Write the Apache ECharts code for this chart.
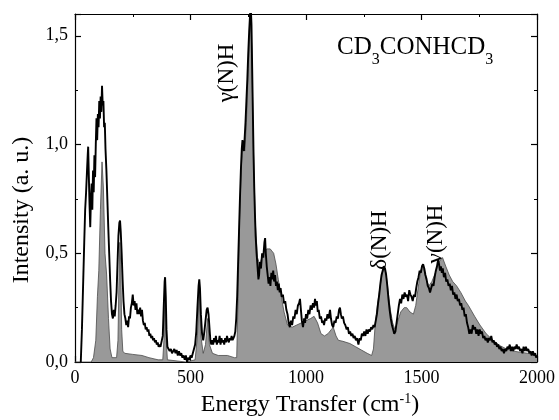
<!DOCTYPE html>
<html>
<head>
<meta charset="utf-8">
<script src="https://cdn.jsdelivr.net/npm/echarts@6/dist/echarts.min.js"></script>
<style>
  html, body { margin: 0; padding: 0; background: #fff; }
  #main { width: 559px; height: 420px; }
</style>
</head>
<body>
<div id="main"></div>
<script>
// calculated spectrum (grey filled), [energy cm-1, intensity]
var calcSpectrum = [
  [0,0],[70,0],[80,0.02],[90,0.1],[97,0.3],[103,0.42],[110,0.7],[117,0.92],[123,0.8],[130,0.5],
  [137,0.4],[145,0.2],[152,0.06],[160,0.02],[180,0.02],[186,0.1],[190,0.35],[194,0.55],[198,0.45],
  [202,0.15],[207,0.05],[215,0.04],[250,0.035],[290,0.03],[320,0.02],[360,0.01],[380,0.01],[385,0.1],
  [390,0.36],[395,0.1],[400,0.01],[480,0],[520,0.01],[530,0.12],[538,0.33],[545,0.12],[555,0.04],
  [565,0.08],[574,0.2],[582,0.08],[595,0.04],[620,0.03],[660,0.03],[690,0.02],[700,0.02],[706,0.3],
  [712,0.65],[720,0.9],[727,1.0],[735,0.97],[742,1.1],[750,1.35],[756,1.5],[760,1.58],[765,1.45],
  [772,1.0],[780,0.65],[790,0.48],[800,0.45],[815,0.5],[830,0.52],[845,0.52],[860,0.5],[870,0.45],
  [880,0.38],[890,0.32],[905,0.23],[920,0.17],[940,0.16],[960,0.17],[980,0.18],[1000,0.19],[1020,0.2],
  [1035,0.21],[1050,0.18],[1065,0.13],[1080,0.12],[1095,0.13],[1110,0.15],[1118,0.16],[1130,0.12],
  [1140,0.1],[1160,0.095],[1190,0.085],[1215,0.07],[1240,0.055],[1265,0.04],[1284,0.03],[1292,0.06],
  [1300,0.18],[1310,0.27],[1320,0.34],[1330,0.41],[1338,0.43],[1346,0.41],[1355,0.33],[1365,0.24],
  [1375,0.18],[1385,0.15],[1395,0.18],[1410,0.23],[1425,0.25],[1436,0.25],[1450,0.23],[1465,0.22],
  [1475,0.26],[1488,0.36],[1497,0.42],[1503,0.44],[1510,0.43],[1520,0.38],[1532,0.35],[1545,0.37],
  [1560,0.41],[1575,0.46],[1591,0.48],[1605,0.44],[1620,0.4],[1635,0.37],[1652,0.35],[1670,0.32],
  [1690,0.28],[1703,0.26],[1730,0.21],[1753,0.17],[1780,0.13],[1810,0.1],[1840,0.075],[1868,0.06],
  [1900,0.05],[1926,0.045],[1960,0.04],[2000,0.03]
];

// measured spectrum (black line)
var exptSpectrum = [
  [25,0],[30,0.15],[35,0.35],[40,0.55],[44,0.7],[48,0.78],[52,0.88],[55,0.95],[57,0.99],[60,0.85],
  [63,0.72],[66,0.62],[69,0.75],[72,0.82],[75,0.7],[78,0.88],[81,0.78],[84,0.95],[87,0.85],[90,1.0],
  [93,1.12],[96,1.02],[99,1.14],[102,1.08],[105,1.2],[108,1.12],[111,1.22],[114,1.15],[117,1.27],
  [120,1.18],[123,1.2],[126,1.08],[129,1.1],[132,0.98],[136,0.88],[140,0.75],[144,0.62],[148,0.5],
  [152,0.38],[156,0.28],[160,0.22],[164,0.2],[168,0.24],[172,0.21],[176,0.26],[180,0.32],[184,0.45],
  [188,0.58],[192,0.64],[195,0.65],[198,0.6],[202,0.5],[206,0.38],[210,0.28],[214,0.22],[218,0.2],
  [222,0.17],[226,0.19],[230,0.16],[234,0.21],[238,0.2],[242,0.25],[246,0.27],[250,0.31],[254,0.26],
  [258,0.28],[262,0.24],[266,0.27],[270,0.22],[274,0.24],[278,0.22],[282,0.25],[286,0.21],[290,0.24],
  [294,0.19],[298,0.17],[302,0.18],[306,0.15],[310,0.16],[314,0.14],[318,0.15],[322,0.12],[326,0.13],
  [330,0.11],[334,0.12],[338,0.1],[342,0.11],[346,0.09],[350,0.1],[354,0.08],[358,0.09],[362,0.07],
  [366,0.08],[370,0.07],[375,0.07],[380,0.12],[384,0.25],[388,0.37],[390,0.39],[393,0.3],[396,0.15],
  [400,0.07],[405,0.06],[410,0.05],[415,0.06],[420,0.04],[425,0.05],[430,0.06],[435,0.04],[440,0.055],
  [445,0.03],[450,0.05],[455,0.03],[460,0.04],[465,0.02],[470,0.03],[475,0.01],[480,0.03],[485,0],
  [490,0.02],[495,0.01],[500,0.03],[505,0.02],[510,0.04],[515,0.06],[520,0.08],[525,0.14],[530,0.25],
  [535,0.35],[538,0.38],[541,0.34],[545,0.22],[550,0.13],[555,0.1],[560,0.14],[565,0.19],[570,0.24],
  [574,0.25],[578,0.22],[582,0.16],[586,0.1],[590,0.08],[594,0.1],[598,0.08],[602,0.11],[606,0.09],
  [610,0.12],[614,0.08],[618,0.1],[622,0.09],[626,0.12],[630,0.08],[634,0.11],[638,0.09],[642,0.1],
  [646,0.08],[650,0.11],[654,0.09],[658,0.12],[662,0.1],[666,0.09],[670,0.11],[674,0.1],[678,0.12],
  [682,0.1],[686,0.11],[690,0.12],[694,0.14],[698,0.2],[702,0.3],[706,0.45],[710,0.6],[714,0.75],
  [718,0.88],[722,0.98],[725,1.02],[728,1.0],[731,0.97],[734,1.02],[738,1.1],[742,1.2],[746,1.3],
  [750,1.42],[754,1.52],[758,1.6],[761,1.63],[764,1.55],[767,1.35],[770,1.15],[773,0.95],[776,0.8],
  [779,0.68],[782,0.58],[786,0.5],[790,0.44],[794,0.38],[797,0.4],[800,0.46],[805,0.43],[810,0.5],
  [815,0.48],[820,0.55],[823,0.57],[826,0.5],[830,0.44],[834,0.4],[838,0.36],[842,0.39],[846,0.35],
  [850,0.41],[854,0.38],[858,0.42],[862,0.37],[866,0.4],[870,0.35],[874,0.37],[878,0.33],[882,0.36],
  [886,0.32],[890,0.34],[895,0.3],[900,0.31],[905,0.27],[910,0.28],[915,0.24],[920,0.22],[925,0.18],
  [930,0.16],[935,0.19],[940,0.17],[945,0.21],[950,0.2],[955,0.24],[960,0.22],[965,0.26],[970,0.27],
  [974,0.29],[978,0.24],[982,0.19],[987,0.16],[992,0.2],[996,0.18],[1000,0.22],[1005,0.2],[1010,0.24],
  [1015,0.22],[1020,0.26],[1025,0.24],[1030,0.27],[1035,0.25],[1039,0.29],[1043,0.26],[1047,0.28],
  [1051,0.23],[1055,0.24],[1060,0.2],[1065,0.21],[1070,0.18],[1074,0.19],[1078,0.17],[1083,0.2],
  [1088,0.19],[1093,0.22],[1098,0.2],[1104,0.24],[1108,0.2],[1113,0.17],[1118,0.16],[1123,0.19],
  [1128,0.18],[1133,0.21],[1138,0.2],[1143,0.24],[1147,0.25],[1151,0.22],[1155,0.2],[1160,0.21],
  [1165,0.18],[1170,0.17],[1176,0.15],[1181,0.16],[1186,0.13],[1191,0.14],[1196,0.12],[1201,0.13],
  [1206,0.11],[1211,0.12],[1216,0.1],[1221,0.11],[1227,0.08],[1232,0.11],[1237,0.1],[1242,0.13],
  [1247,0.12],[1252,0.14],[1257,0.12],[1262,0.15],[1267,0.13],[1272,0.15],[1277,0.14],[1282,0.16],
  [1287,0.15],[1292,0.17],[1297,0.16],[1302,0.19],[1307,0.22],[1312,0.27],[1317,0.31],[1322,0.36],
  [1327,0.4],[1332,0.42],[1337,0.44],[1342,0.43],[1347,0.4],[1352,0.35],[1357,0.29],[1362,0.24],
  [1367,0.2],[1372,0.17],[1377,0.15],[1382,0.13],[1387,0.14],[1392,0.18],[1397,0.22],[1402,0.26],
  [1407,0.29],[1412,0.27],[1417,0.31],[1422,0.29],[1427,0.32],[1432,0.3],[1437,0.31],[1442,0.28],
  [1447,0.33],[1452,0.31],[1457,0.3],[1462,0.28],[1467,0.31],[1472,0.3],[1477,0.34],[1482,0.37],
  [1487,0.39],[1492,0.42],[1497,0.41],[1502,0.44],[1507,0.45],[1512,0.43],[1517,0.4],[1522,0.38],
  [1527,0.35],[1532,0.34],[1537,0.32],[1542,0.34],[1547,0.36],[1552,0.35],[1557,0.39],[1562,0.42],
  [1567,0.44],[1572,0.47],[1576,0.45],[1580,0.42],[1584,0.44],[1588,0.41],[1592,0.43],[1597,0.39],
  [1602,0.41],[1607,0.37],[1612,0.38],[1617,0.35],[1622,0.36],[1627,0.33],[1632,0.35],[1637,0.31],
  [1642,0.32],[1647,0.29],[1652,0.31],[1657,0.28],[1662,0.29],[1667,0.26],[1672,0.27],[1677,0.24],
  [1682,0.25],[1687,0.21],[1692,0.22],[1697,0.18],[1702,0.16],[1707,0.13],[1712,0.15],[1717,0.13],
  [1722,0.17],[1727,0.15],[1732,0.16],[1737,0.13],[1742,0.15],[1747,0.12],[1752,0.15],[1757,0.13],
  [1762,0.14],[1767,0.11],[1772,0.12],[1777,0.1],[1782,0.11],[1787,0.09],[1792,0.11],[1797,0.1],
  [1802,0.12],[1807,0.09],[1812,0.1],[1817,0.08],[1822,0.09],[1827,0.07],[1832,0.08],[1837,0.06],
  [1842,0.07],[1847,0.05],[1852,0.06],[1857,0.04],[1862,0.06],[1867,0.05],[1872,0.07],[1877,0.06],
  [1882,0.08],[1887,0.05],[1892,0.07],[1897,0.05],[1902,0.07],[1907,0.06],[1912,0.08],[1917,0.06],
  [1922,0.07],[1927,0.05],[1932,0.06],[1937,0.04],[1942,0.07],[1947,0.05],[1952,0.07],[1957,0.05],
  [1962,0.06],[1967,0.04],[1972,0.05],[1977,0.03],[1982,0.05],[1987,0.03],[1992,0.04],[1996,0.02],
  [2000,0.03]
];

var xTicks = [0, 500, 1000, 1500, 2000];
var yTicks = [0, 0.5, 1.0, 1.5];

var serif = "'Liberation Serif', 'Times New Roman', serif";

function baseAxis(pos, showLabel) {
  return {
    type: 'value',
    position: pos,
    axisLine: { show: true, onZero: false, lineStyle: { color: '#000', width: 1.2 } },
    axisTick: { show: true, inside: true, length: 6, lineStyle: { color: '#000', width: 1.2 } },
    minorTick: { show: true, splitNumber: 2, length: 3, lineStyle: { color: '#000', width: 1 } },
    splitLine: { show: false },
    axisLabel: { show: showLabel, color: '#000', fontFamily: serif, fontSize: 18, margin: 7 }
  };
}

var xBottom = baseAxis('bottom', true);
xBottom.min = xTicks[0]; xBottom.max = xTicks[xTicks.length - 1]; xBottom.interval = 500;
xBottom.axisLabel.formatter = function (v) { return String(v); };
var xTop = baseAxis('top', false);
xTop.min = xBottom.min; xTop.max = xBottom.max; xTop.interval = 500;

var yLeft = baseAxis('left', true);
yLeft.min = 0; yLeft.max = 1.6; yLeft.interval = 0.5;
yLeft.axisLabel.formatter = function (v) {
  if (yTicks.indexOf(v) < 0) return '';
  return v.toFixed(1).replace('.', ',');
};
var yRight = baseAxis('right', false);
yRight.min = 0; yRight.max = 1.6; yRight.interval = 0.5;

var chart = echarts.init(document.getElementById('main'));
chart.setOption({
  animation: false,
  backgroundColor: '#fff',
  grid: { left: 75, right: 22, top: 14, bottom: 58 },
  xAxis: [xBottom, xTop],
  yAxis: [yLeft, yRight],
  series: [
    {
      type: 'line',
      data: calcSpectrum,
      showSymbol: false,
      lineStyle: { color: '#4a4a4a', width: 0.8 },
      areaStyle: { color: '#999999', opacity: 1 },
      z: 2
    },
    {
      type: 'line',
      data: exptSpectrum,
      showSymbol: false,
      lineStyle: { color: '#000', width: 1.9 },
      z: 3
    }
  ],
  graphic: [
    {
      type: 'text', x: 22, y: 210, rotation: Math.PI / 2,
      style: { text: 'Intensity (a. u.)', font: '24px ' + serif, fill: '#000', align: 'center', verticalAlign: 'middle' }
    },
    {
      type: 'text', x: 310, y: 405,
      style: {
        text: 'Energy Transfer (cm{sup|-1})', fill: '#000', align: 'center', verticalAlign: 'middle',
        fontFamily: serif, fontSize: 24, lineHeight: 26,
        rich: { sup: { fontFamily: serif, fontSize: 14, lineHeight: 14, verticalAlign: 'top' } }
      }
    },
    {
      type: 'text', x: 337, y: 47,
      style: {
        text: 'CD{sub|3}CONHCD{sub|3}', fill: '#000', align: 'left', verticalAlign: 'middle',
        fontFamily: serif, fontSize: 25, lineHeight: 26,
        rich: { sub: { fontFamily: serif, fontSize: 16, lineHeight: 16, verticalAlign: 'bottom', padding: [0, 0, -8, 0] } }
      }
    },
    {
      type: 'text', x: 227, y: 73, rotation: Math.PI / 2,
      style: { text: 'γ(N)H', font: '23px ' + serif, fill: '#000', align: 'center', verticalAlign: 'middle' }
    },
    {
      type: 'text', x: 380, y: 240, rotation: Math.PI / 2,
      style: { text: 'δ(N)H', font: '23px ' + serif, fill: '#000', align: 'center', verticalAlign: 'middle' }
    },
    {
      type: 'text', x: 436, y: 234, rotation: Math.PI / 2,
      style: { text: 'ν(N)H', font: '23px ' + serif, fill: '#000', align: 'center', verticalAlign: 'middle' }
    }
  ]
});
</script>
</body>
</html>
